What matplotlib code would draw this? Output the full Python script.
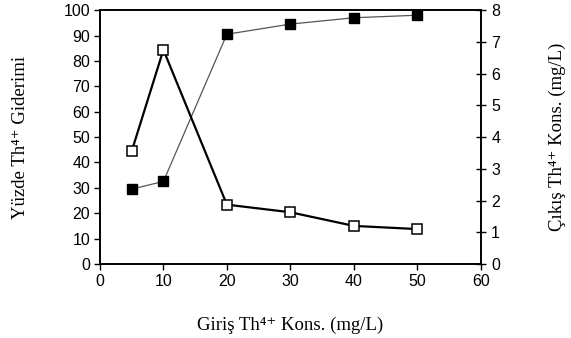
import matplotlib
matplotlib.use("Agg")
import matplotlib.pyplot as plt

# Inlet concentration (mg/L)
giris = [5, 10, 20, 30, 40, 50]
# Percent removal (left axis)
yuzde_giderim = [29.5, 32.5, 90.5, 94.5, 97.0, 98.0]
# Outlet concentration (mg/L, right axis)
cikis_kons = [3.55, 6.75, 1.87, 1.63, 1.2, 1.1]

tick_font = ["Liberation Sans", "DejaVu Sans"]
label_font = ["Liberation Serif", "DejaVu Serif"]

fig = plt.figure(figsize=(5.71, 3.38), dpi=100)
ax = fig.add_axes([0.175, 0.219, 0.667, 0.751])
ax2 = ax.twinx()

ax.plot(giris, yuzde_giderim, color="#555555", lw=0.9, marker="s", ms=7.5,
        mfc="black", mec="black", zorder=3)
ax2.plot(giris, cikis_kons, color="black", lw=1.6, marker="s", ms=7.5,
         mfc="white", mec="black", mew=1.1, zorder=3)

ax.set_xlim(0, 60)
ax.set_ylim(0, 100)
ax2.set_ylim(0, 8)
ax.set_xticks(range(0, 61, 10))
ax.set_yticks(range(0, 101, 10))
ax2.set_yticks(range(0, 9))

for a in (ax, ax2):
    for s in a.spines.values():
        s.set_linewidth(1.2)
        s.set_color("black")

ax.tick_params(axis="both", direction="out", length=4, width=1, labelsize=11.5, pad=3)
ax2.tick_params(axis="y", direction="inout", length=7, width=1, labelsize=11.5, pad=4)
for lbl in ax.get_xticklabels() + ax.get_yticklabels() + ax2.get_yticklabels():
    lbl.set_fontfamily(tick_font)

ax.set_xlabel("Giriş Th\u2074\u207a Kons. (mg/L)", fontfamily=label_font, fontsize=13.5, labelpad=20)
ax.set_ylabel("Yüzde Th\u2074\u207a Giderimi", fontfamily=label_font, fontsize=13.5, labelpad=25)
ax2.set_ylabel("Çıkış Th\u2074\u207a Kons. (mg/L)", fontfamily=label_font, fontsize=13.5, labelpad=35)

fig.savefig("out.png", dpi=100)
